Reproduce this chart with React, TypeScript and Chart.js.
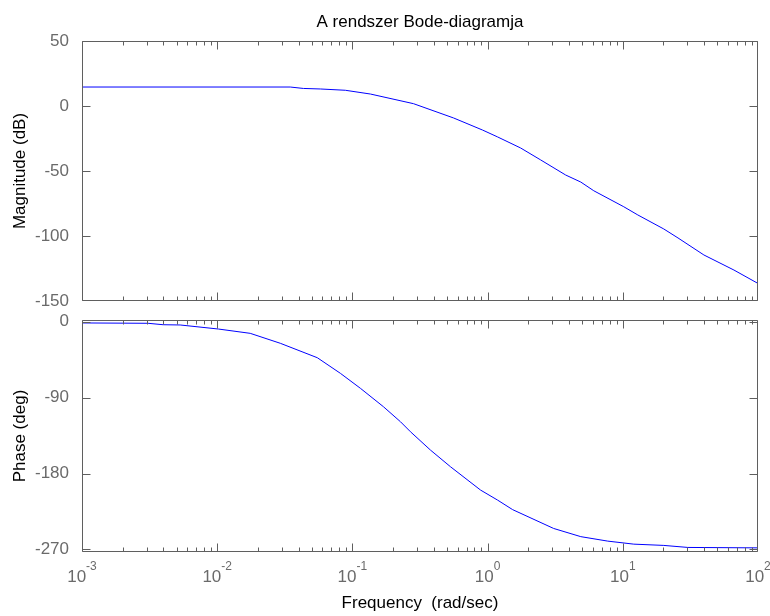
import React, { useEffect, useRef } from 'react';
import { Chart, registerables } from 'chart.js';

Chart.register(...registerables);

// ---------- text ----------
const TITLE = 'A rendszer Bode-diagramja';
const X_LABEL = 'Frequency  (rad/sec)';
const MAG_LABEL = 'Magnitude (dB)';
const PHASE_LABEL = 'Phase (deg)';

// ---------- data ----------
const MAG_FREQ = [0.001, 0.0347, 0.0434, 0.0579, 0.0887, 0.136, 0.283, 0.56, 0.918, 1.186, 1.755, 2.47, 3.78, 4.89, 6.1, 10.17, 12.91, 20.1, 25.6, 39.8, 66.4, 100];
const MAG_DB = [14.6, 14.6, 13.5, 13.1, 12.1, 9.2, 1.8, -9.2, -18.5, -23.8, -32.3, -41.5, -53.1, -58.5, -65.2, -77.5, -83.8, -94.6, -101.5, -114.6, -126.2, -136.5];

const PHASE_FREQ = [0.001, 0.00308, 0.00398, 0.00532, 0.0102, 0.01755, 0.0293, 0.055, 0.0815, 0.1147, 0.1697, 0.2268, 0.269, 0.378, 0.532, 0.887, 1.186, 1.532, 3.08, 4.89, 7.74, 12.06, 20.1, 30.3, 100];
const PHASE_DEG = [-1.5, -1.9, -3.6, -3.9, -8.7, -13.8, -25.6, -42.7, -61.2, -79.0, -100.8, -118.6, -130.5, -152.2, -172.0, -199.6, -211.5, -222.8, -245.1, -254.8, -260.1, -263.7, -265.2, -267.6, -268.1];

// ---------- axes ----------
const FREQ_MIN = 0.001;
const FREQ_MAX = 100;
const DECADES = [-3, -2, -1, 0, 1, 2];
const MAG_MIN = -150;
const MAG_MAX = 50;
const MAG_TICKS = [-150, -100, -50, 0, 50];
const PHASE_MIN = -273;
const PHASE_MAX = 2;
const PHASE_TICKS = [-270, -180, -90, 0];

// ---------- style ----------
const FONT = '"Liberation Sans", Arial, Helvetica, sans-serif';
const AXIS_COLOR = '#5f5f5f';
const TICK_LABEL_COLOR = '#6a6a6a';
const LINE_COLOR = '#0000ff';
const W = 770;
const H = 616;

function freqTicks() {
  const ticks: { value: number; major: boolean }[] = [];
  for (const e of DECADES) {
    for (let k = 1; k <= 9; k++) {
      const v = k * Math.pow(10, e);
      if (v > FREQ_MAX * 1.0001) break;
      ticks.push({ value: v, major: k === 1 });
    }
  }
  return ticks;
}

function makeFramePlugin(id: string, opts: { title?: string; yLabel: string; xLabels?: boolean; xLabel?: string }) {
  return {
    id,
    afterDraw(chart: any) {
      const { ctx, chartArea: a } = chart;
      const xs = chart.scales.x;
      const ys = chart.scales.y;
      const L = a.left + 0.5;
      const R = a.right - 0.5;
      const T = a.top + 0.5;
      const B = a.bottom - 0.5;
      ctx.save();
      ctx.strokeStyle = AXIS_COLOR;
      ctx.lineWidth = 1;
      ctx.beginPath();
      ctx.rect(L, T, R - L, B - T);
      for (const t of xs.ticks) {
        let px = Math.round(xs.getPixelForValue(t.value)) + 0.5;
        px = Math.min(Math.max(px, L), R);
        const len = t.major ? 8 : 4;
        ctx.moveTo(px, B);
        ctx.lineTo(px, B - len);
        ctx.moveTo(px, T);
        ctx.lineTo(px, T + len);
      }
      for (const t of ys.ticks) {
        let py = Math.round(ys.getPixelForValue(t.value)) + 0.5;
        py = Math.min(Math.max(py, T), B);
        ctx.moveTo(L, py);
        ctx.lineTo(L + 8, py);
        ctx.moveTo(R, py);
        ctx.lineTo(R - 8, py);
      }
      ctx.stroke();

      const cx = (a.left + a.right) / 2;
      ctx.fillStyle = '#000';
      ctx.textBaseline = 'alphabetic';
      if (opts.title) {
        ctx.font = `17px ${FONT}`;
        ctx.textAlign = 'center';
        ctx.fillText(opts.title, cx, a.top - 14);
      }
      // y label
      ctx.save();
      ctx.translate(25, (a.top + a.bottom) / 2);
      ctx.rotate(-Math.PI / 2);
      ctx.font = `17px ${FONT}`;
      ctx.textAlign = 'center';
      ctx.fillText(opts.yLabel, 0, 0);
      ctx.restore();

      if (opts.xLabels) {
        ctx.fillStyle = TICK_LABEL_COLOR;
        ctx.textAlign = 'left';
        for (const e of DECADES) {
          const px = xs.getPixelForValue(Math.pow(10, e));
          ctx.font = `17px ${FONT}`;
          const w1 = ctx.measureText('10').width;
          const exp = String(e);
          ctx.font = `12px ${FONT}`;
          const w2 = ctx.measureText(exp).width;
          const x0 = px - (w1 + w2) / 2;
          ctx.font = `17px ${FONT}`;
          ctx.fillText('10', x0, a.bottom + 30);
          ctx.font = `12px ${FONT}`;
          ctx.fillText(exp, x0 + w1, a.bottom + 18);
        }
      }
      if (opts.xLabel) {
        ctx.fillStyle = '#000';
        ctx.font = `17px ${FONT}`;
        ctx.textAlign = 'center';
        ctx.fillText(opts.xLabel, cx, a.bottom + 56);
      }
      ctx.restore();
    },
  };
}

function buildConfig(
  freq: number[],
  values: number[],
  yMin: number,
  yMax: number,
  yTicks: number[],
  padding: { top: number; bottom: number },
  plugin: any
): any {
  return {
    type: 'line',
    data: {
      datasets: [
        {
          data: freq.map((f, i) => ({ x: f, y: values[i] })),
          borderColor: LINE_COLOR,
          borderWidth: 1,
          pointRadius: 0,
          tension: 0,
          fill: false,
        },
      ],
    },
    options: {
      animation: false,
      responsive: false,
      events: [],
      layout: { padding: { left: 0, right: 12, top: padding.top, bottom: padding.bottom } },
      plugins: { legend: { display: false }, tooltip: { enabled: false }, title: { display: false } },
      scales: {
        x: {
          type: 'logarithmic',
          position: 'bottom',
          min: FREQ_MIN,
          max: FREQ_MAX,
          bounds: 'data',
          afterBuildTicks: (s: any) => {
            s.ticks = freqTicks();
          },
          afterFit: (s: any) => {
            s.height = 0;
          },
          ticks: { display: false, autoSkip: false },
          grid: { display: false },
          border: { display: false },
        },
        y: {
          type: 'linear',
          position: 'left',
          min: yMin,
          max: yMax,
          bounds: 'data',
          afterBuildTicks: (s: any) => {
            s.ticks = yTicks.map((v) => ({ value: v }));
          },
          afterFit: (s: any) => {
            s.width = 82;
          },
          ticks: {
            color: TICK_LABEL_COLOR,
            font: { family: FONT, size: 17 },
            padding: 5,
            autoSkip: false,
            callback: (v: any) => String(v),
          },
          grid: { display: false },
          border: { display: false },
        },
      },
    },
    plugins: [plugin],
  };
}

export default function App() {
  const magRef = useRef<HTMLCanvasElement>(null);
  const phaseRef = useRef<HTMLCanvasElement>(null);

  useEffect(() => {
    const mag = new Chart(
      magRef.current as HTMLCanvasElement,
      buildConfig(MAG_FREQ, MAG_DB, MAG_MIN, MAG_MAX, MAG_TICKS, { top: 41, bottom: H - 301 },
        makeFramePlugin('magFrame', { title: TITLE, yLabel: MAG_LABEL }))
    );
    const phase = new Chart(
      phaseRef.current as HTMLCanvasElement,
      buildConfig(PHASE_FREQ, PHASE_DEG, PHASE_MIN, PHASE_MAX, PHASE_TICKS, { top: 320, bottom: H - 552 },
        makeFramePlugin('phaseFrame', { yLabel: PHASE_LABEL, xLabels: true, xLabel: X_LABEL }))
    );
    return () => {
      mag.destroy();
      phase.destroy();
    };
  }, []);

  return (
    <div style={{ position: 'absolute', left: 0, top: 0, width: W, height: H, background: '#fff', overflow: 'hidden' }}>
      <canvas ref={magRef} width={W} height={H} style={{ position: 'absolute', left: 0, top: 0 }} />
      <canvas ref={phaseRef} width={W} height={H} style={{ position: 'absolute', left: 0, top: 0 }} />
    </div>
  );
}
